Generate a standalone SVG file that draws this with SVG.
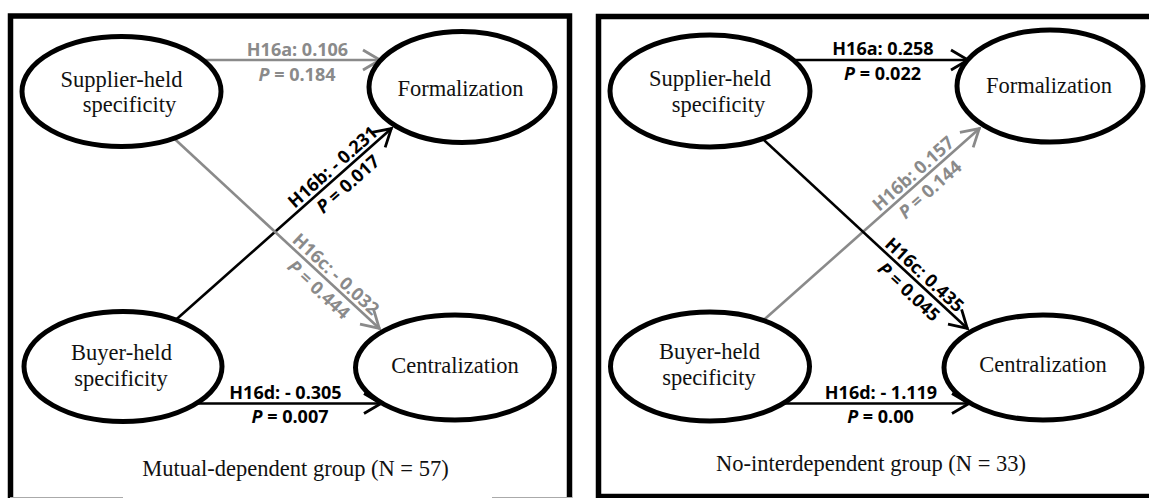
<svg xmlns="http://www.w3.org/2000/svg" width="1149" height="498" viewBox="0 0 1149 498">
  <style>
    .frame{fill:none;stroke:#000;stroke-width:5.5}
    .node ellipse{fill:#fff;stroke:#000;stroke-width:5}
    .node text,.caption{font-family:"Liberation Serif","Times New Roman",serif;font-size:22.5px;fill:#111;text-anchor:middle}
    .edge{fill:none;stroke-width:2.6}
    .k{stroke:#000;marker-end:url(#arrK)}
    .g{stroke:#8a8a8a;marker-end:url(#arrG)}
    .lbl{font-family:"Open Sans","Liberation Sans",sans-serif;font-weight:bold;font-size:18px;text-anchor:middle}
    .lk{fill:#000}
    .lg{fill:#8a8a8a}
    .it{font-style:italic}
  </style>
  <defs>
    <marker id="arrK" markerUnits="userSpaceOnUse" viewBox="-22 -13 24 26" refX="0" refY="0" markerWidth="24" markerHeight="26" orient="auto">
      <path d="M-18,-10 L-1,0 L-18,10" fill="none" stroke="#000" stroke-width="2.8"/>
    </marker>
    <marker id="arrG" markerUnits="userSpaceOnUse" viewBox="-22 -13 24 26" refX="0" refY="0" markerWidth="24" markerHeight="26" orient="auto">
      <path d="M-18,-10 L-1,0 L-18,10" fill="none" stroke="#8a8a8a" stroke-width="2.8"/>
    </marker>
  </defs>
  <rect width="1149" height="498" fill="#fff"/>

  <!-- Left panel: mutual-dependent group -->
  <g id="panel-mutual">
    <rect class="frame" x="10.5" y="16" width="559" height="485"/>
    <line x1="10" y1="497.5" x2="123" y2="497.5" stroke="#aaa" stroke-width="1"/>
    <line x1="492" y1="497.5" x2="572" y2="497.5" stroke="#aaa" stroke-width="1"/>

    <g id="mutual-connectors">
      <!-- H16a -->
      <line class="edge g" x1="195" y1="60" x2="381" y2="60"/>
      <text class="lbl lg" x="297.5" y="55.5">H16a: 0.106</text>
      <text class="lbl lg" x="297" y="80.5"><tspan class="it">P</tspan> = 0.184</text>
      <!-- H16b -->
      <line class="edge k" x1="170" y1="325" x2="392" y2="128"/>
      <g transform="translate(178,318) rotate(-41.6)">
        <text class="lbl lk" x="216" y="-4">H16b: - 0.231</text>
        <text class="lbl lk" x="216" y="19"><tspan class="it">P</tspan> = 0.017</text>
      </g>
      <!-- H16c -->
      <line class="edge g" x1="165" y1="130" x2="380" y2="329"/>
      <g transform="translate(177,141) rotate(42.8)">
        <text class="lbl lg" x="207" y="-4">H16c: - 0.032</text>
        <text class="lbl lg" x="205" y="19"><tspan class="it">P</tspan> = 0.444</text>
      </g>
      <!-- H16d -->
      <line class="edge k" x1="190" y1="403.5" x2="382" y2="403.5"/>
      <text class="lbl lk" x="285.5" y="398.5">H16d: - 0.305</text>
      <text class="lbl lk" x="290" y="423"><tspan class="it">P</tspan> = 0.007</text>
    </g>

    <g id="mutual-supplier" class="node">
      <ellipse cx="121.5" cy="91.5" rx="99.5" ry="55"/>
      <text x="121.5" y="86.5">Supplier-held</text>
      <text x="129.5" y="112">specificity</text>
    </g>
    <g id="mutual-formalization" class="node">
      <ellipse cx="462" cy="87" rx="93" ry="55.5"/>
      <text x="460.5" y="96">Formalization</text>
    </g>
    <g id="mutual-buyer" class="node">
      <ellipse cx="123" cy="366.5" rx="99" ry="55"/>
      <text x="121.5" y="360">Buyer-held</text>
      <text x="121" y="386">specificity</text>
    </g>
    <g id="mutual-centralization" class="node">
      <ellipse cx="455" cy="367.5" rx="99.5" ry="52.5"/>
      <text x="455" y="372.5">Centralization</text>
    </g>
    <text class="caption" x="295.5" y="476">Mutual-dependent group (N = 57)</text>
  </g>

  <!-- Right panel: no-interdependent group -->
  <g id="panel-none" transform="translate(588,0)">
    <rect class="frame" x="10.5" y="16.5" width="570" height="480"/>

    <g id="none-connectors">
      <!-- H16a -->
      <line class="edge k" x1="195" y1="60" x2="381" y2="60"/>
      <text class="lbl lk" x="295" y="55">H16a: 0.258</text>
      <text class="lbl lk" x="294.5" y="80"><tspan class="it">P</tspan> = 0.022</text>
      <!-- H16b -->
      <line class="edge g" x1="170" y1="325" x2="392" y2="128"/>
      <g transform="translate(178,318) rotate(-41.6)">
        <text class="lbl lg" x="206" y="-4">H16b: 0.157</text>
        <text class="lbl lg" x="208" y="19"><tspan class="it">P</tspan> = 0.144</text>
      </g>
      <!-- H16c -->
      <line class="edge k" x1="165" y1="130" x2="380" y2="329"/>
      <g transform="translate(177,141) rotate(42.8)">
        <text class="lbl lk" x="208" y="-4">H16c: 0.435</text>
        <text class="lbl lk" x="208" y="19"><tspan class="it">P</tspan> = 0.045</text>
      </g>
      <!-- H16d -->
      <line class="edge k" x1="190" y1="403.5" x2="382" y2="403.5"/>
      <text class="lbl lk" x="293" y="398.5">H16d: - 1.119</text>
      <text class="lbl lk" x="292.5" y="423"><tspan class="it">P</tspan> = 0.00</text>
    </g>

    <g id="none-supplier" class="node">
      <ellipse cx="122" cy="91" rx="100" ry="56"/>
      <text x="122" y="86">Supplier-held</text>
      <text x="130.5" y="112">specificity</text>
    </g>
    <g id="none-formalization" class="node">
      <ellipse cx="462" cy="86" rx="93" ry="56"/>
      <text x="461" y="93">Formalization</text>
    </g>
    <g id="none-buyer" class="node">
      <ellipse cx="122" cy="366.5" rx="99.5" ry="54.5"/>
      <text x="121.5" y="359">Buyer-held</text>
      <text x="121" y="385">specificity</text>
    </g>
    <g id="none-centralization" class="node">
      <ellipse cx="455" cy="367.5" rx="99" ry="52.5"/>
      <text x="455" y="372">Centralization</text>
    </g>
    <text class="caption" x="283" y="471">No-interdependent group (N = 33)</text>
  </g>
</svg>
